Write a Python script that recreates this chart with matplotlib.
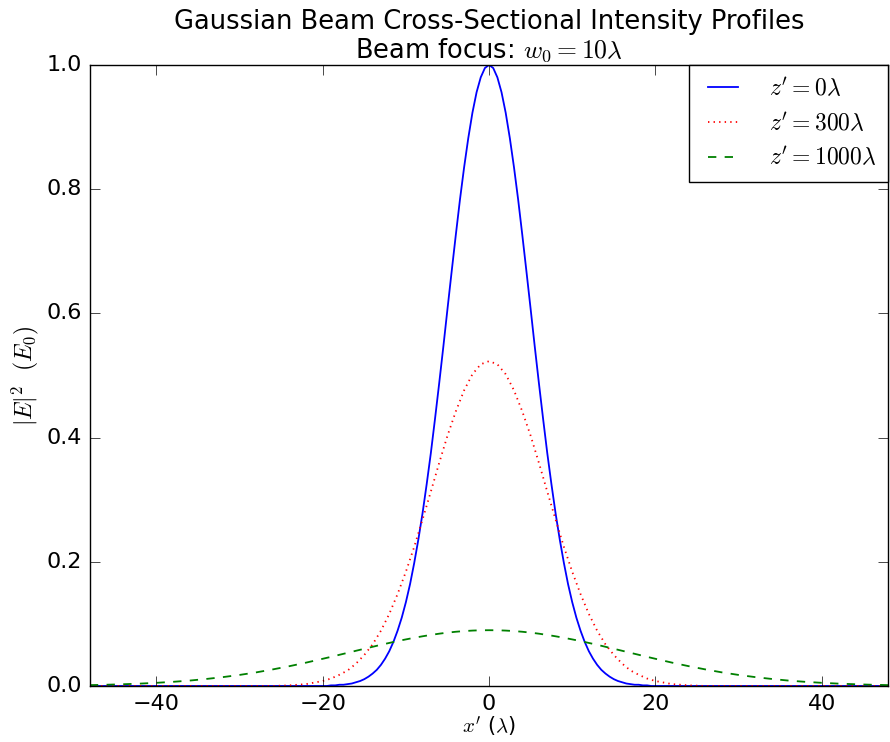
import matplotlib
matplotlib.use('Agg')
import matplotlib.pyplot as plt

# values

# focus curve is narrow, so it gets a finer grid
x_focus = [-48, -20, -19.5, -19, -18.5, -18, -17.5, -17, -16.5, -16, -15.5,
           -15, -14.5, -14, -13.5, -13, -12.5, -12, -11.5, -11, -10.5, -10,
           -9.5, -9, -8.5, -8, -7.5, -7, -6.5, -6, -5.5, -5, -4.5, -4, -3.5,
           -3, -2.5, -2, -1.5, -1, -0.5, 0, 0.5, 1, 1.5, 2, 2.5, 3, 3.5, 4,
           4.5, 5, 5.5, 6, 6.5, 7, 7.5, 8, 8.5, 9, 9.5, 10, 10.5, 11, 11.5,
           12, 12.5, 13, 13.5, 14, 14.5, 15, 15.5, 16, 16.5, 17, 17.5, 18,
           18.5, 19, 19.5, 20, 48]

z0 = [0.0, 0.0, 0.0, 0.001, 0.001, 0.002, 0.002, 0.003, 0.004, 0.006, 0.008,
      0.011, 0.015, 0.020, 0.026, 0.034, 0.044, 0.056, 0.071, 0.089, 0.110,
      0.135, 0.164, 0.198, 0.236, 0.278, 0.325, 0.375, 0.430, 0.487, 0.546,
      0.607, 0.667, 0.726, 0.783, 0.835, 0.882, 0.923, 0.956, 0.980, 0.995,
      1.000, 0.995, 0.980, 0.956, 0.923, 0.882, 0.835, 0.783, 0.726, 0.667,
      0.607, 0.546, 0.487, 0.430, 0.375, 0.325, 0.278, 0.236, 0.198, 0.164,
      0.135, 0.110, 0.089, 0.071, 0.056, 0.044, 0.034, 0.026, 0.020, 0.015,
      0.011, 0.008, 0.006, 0.004, 0.003, 0.002, 0.002, 0.001, 0.001, 0.0,
      0.0, 0.0]

x = [-48, -46, -44, -42, -40, -38, -36, -34, -32, -30, -28, -26, -24, -22,
     -20, -19, -18, -17, -16, -15, -14, -13, -12, -11, -10, -9, -8, -7, -6,
     -5, -4, -3, -2, -1, 0, 1, 2, 3, 4, 5, 6, 7, 8, 9, 10, 11, 12, 13, 14,
     15, 16, 17, 18, 19, 20,
     22, 24, 26, 28, 30, 32, 34, 36, 38, 40, 42, 44, 46, 48]

z300 = [0.0, 0.0, 0.0, 0.0, 0.0, 0.0, 0.0, 0.0, 0.0, 0.0, 0.0, 0.0, 0.001,
        0.003,
        0.008, 0.012, 0.018, 0.025, 0.036, 0.050, 0.067, 0.089, 0.116, 0.148,
        0.184, 0.224, 0.268, 0.313, 0.359, 0.403, 0.442, 0.476, 0.502, 0.518,
        0.523, 0.518, 0.502, 0.476, 0.442, 0.403, 0.359, 0.313, 0.268, 0.224,
        0.184, 0.148, 0.116, 0.089, 0.067, 0.050, 0.036, 0.025, 0.018, 0.012,
        0.008,
        0.003, 0.001, 0.0, 0.0, 0.0, 0.0, 0.0, 0.0, 0.0, 0.0, 0.0, 0.0, 0.0,
        0.0]

z1000 = [0.0014, 0.0020, 0.0028, 0.0038, 0.0051, 0.0067, 0.0087, 0.0113,
         0.0143, 0.0178, 0.0219, 0.0267, 0.0319, 0.0376,
         0.0438, 0.0469, 0.0502, 0.0534, 0.0567, 0.0599, 0.0631, 0.0663,
         0.0693, 0.0723, 0.0750, 0.0776, 0.0800, 0.0822, 0.0842, 0.0859,
         0.0873, 0.0884, 0.0892, 0.0897, 0.0898, 0.0897, 0.0892, 0.0884,
         0.0873, 0.0859, 0.0842, 0.0822, 0.0800, 0.0776, 0.0750, 0.0723,
         0.0693, 0.0663, 0.0631, 0.0599, 0.0567, 0.0534, 0.0502, 0.0469,
         0.0438,
         0.0376, 0.0319, 0.0267, 0.0219, 0.0178, 0.0143, 0.0113, 0.0087,
         0.0067, 0.0051, 0.0038, 0.0028, 0.0020, 0.0014]

labels = [r"$z' = 0\lambda$", r"$z' = 300\lambda$", r"$z' = 1000\lambda$"]

# classic look

plt.style.use('classic')
plt.rcParams['mathtext.fontset'] = 'cm'
plt.rcParams['font.family'] = 'DejaVu Sans'

fig = plt.figure(figsize=(8.9, 7.42), dpi=100, facecolor='white')
axes = fig.add_axes([0.101, 0.0755, 0.897, 0.837])

axes.plot(x_focus, z0, color='blue', linestyle='-', linewidth=1.3,
          label=labels[0])
axes.plot(x, z300, color='red', linestyle=':', linewidth=1.3, label=labels[1])
axes.plot(x, z1000, color='green', linestyle='--', linewidth=1.3,
          label=labels[2])

# decoration

axes.set_xlim(-48, 48)
axes.set_ylim(0, 1.0)
axes.set_xticks([-40, -20, 0, 20, 40])
axes.set_yticks([0.0, 0.2, 0.4, 0.6, 0.8, 1.0])
axes.tick_params(labelsize=16, direction='in', length=7, pad=6)
axes.set_xlabel(r"$x'$ ($\lambda$)", fontsize=15, labelpad=0)
axes.set_ylabel(r"$|E|^2\ \ (E_0)$", fontsize=17, labelpad=4)
axes.set_title("Gaussian Beam Cross-Sectional Intensity Profiles\n"
               r"Beam focus: $w_0 = 10\lambda$", fontsize=18.5,
               linespacing=1.1)

axes.legend(loc='upper right', fontsize=17, frameon=True, fancybox=False,
            handlelength=1.9, handletextpad=1.0, labelspacing=0.45,
            borderaxespad=0, borderpad=0.5)

fig.savefig('out.png', dpi=100, facecolor='white')
